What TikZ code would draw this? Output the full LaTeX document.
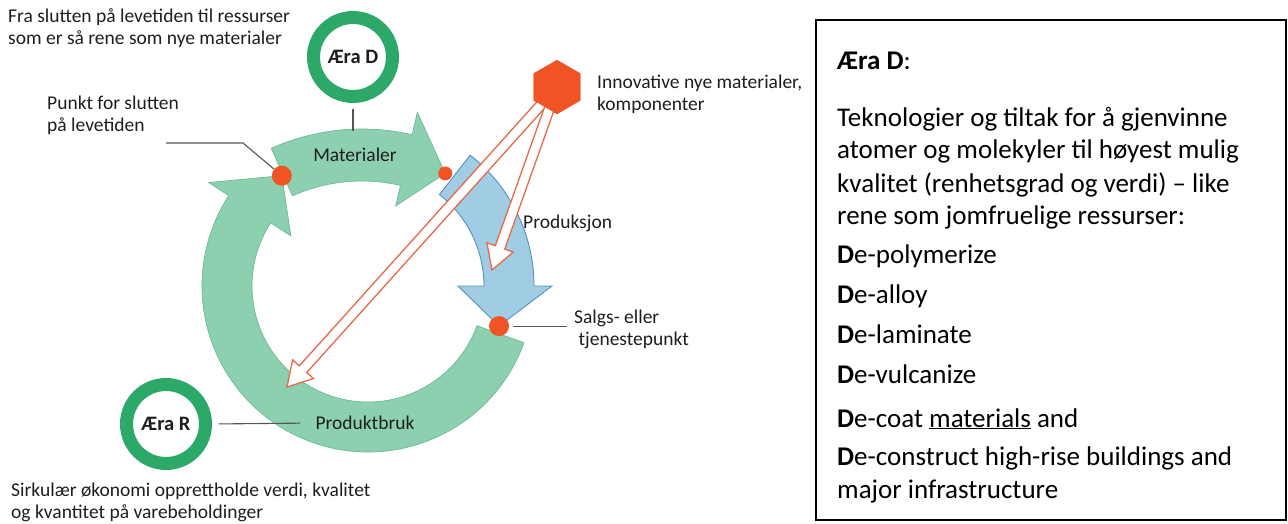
\documentclass[tikz,border=0pt]{standalone}
\usepackage{fontspec}
\setmainfont{Carlito}
\usetikzlibrary{calc,shapes.geometric}
\definecolor{ringgreen}{RGB}{141,208,176}
\definecolor{ringedge}{RGB}{108,186,150}
\definecolor{bluefill}{RGB}{160,205,228}
\definecolor{blueedge}{RGB}{85,145,190}
\definecolor{dotorange}{RGB}{240,84,36}
\definecolor{arrowedge}{RGB}{230,105,75}
\definecolor{eragreen}{RGB}{44,168,104}
\definecolor{leadgray}{RGB}{85,85,85}
\definecolor{txt}{RGB}{30,30,30}
\newcommand{\wArrow}[2]{%
  \coordinate (hb) at ($(#2)!24pt!(#1)$);
  \filldraw[bigarrow] ($(#1)!5pt!90:(#2)$) -- ($(hb)!5pt!90:(#2)$) -- ($(hb)!14pt!90:(#2)$) -- (#2)
    -- ($(hb)!14pt!-90:(#2)$) -- ($(hb)!5pt!-90:(#2)$) -- ($(#1)!5pt!-90:(#2)$) -- cycle;}
\begin{document}
\begin{tikzpicture}[x=1pt,y=1pt,
  lbl/.style={font=\fontsize{19.5}{22}\selectfont, text=txt, inner sep=0pt, align=left},
  era/.style={circle, draw=eragreen, line width=13pt, fill=white, minimum size=79pt, inner sep=0pt, font=\fontsize{20.5}{24}\selectfont\bfseries, text=txt},
  dot/.style={circle, fill=dotorange, inner sep=0pt, minimum size=#1},
  lead/.style={draw=leadgray, line width=1.1pt},
  greenarrow/.style={fill=ringgreen, draw=ringedge, line width=0.7pt},
  bluearrow/.style={fill=bluefill, draw=blueedge, line width=0.9pt},
  bigarrow/.style={fill=white, draw=arrowedge, line width=1.3pt, line join=miter},
  boxtxt/.style={anchor=base west, inner sep=0pt, font=\fontsize{27}{32}\selectfont, text=black}
]
\useasboundingbox (0,0) rectangle (1288,-524);
\coordinate (C) at (368,-286);
\coordinate (M) at (362,-352);

% big green ring arrow
\filldraw[greenarrow] ($(C)+(-20:166)$) arc[start angle=-20, end angle=-213, radius=166]
  -- ($(C)+(147:190)$) -- ($(C)+(128:140)$) -- ($(C)+(147:92)$) -- ($(C)+(147:116)$)
  arc[start angle=147, end angle=340, radius=116] -- cycle;
% Materialer arrow
\filldraw[greenarrow] ($(M)+(114:223)$) arc[start angle=114, end angle=77, radius=223]
  -- ($(M)+(77:246)$) -- ($(M)+(65:197)$) -- ($(M)+(77:150)$) -- ($(M)+(77:171)$)
  arc[start angle=77, end angle=114, radius=171] -- cycle;
% Produksjon arrow
\filldraw[bluearrow] ($(C)+(52:166)$) arc[start angle=52, end angle=0, radius=166]
  -- ($(C)+(0:184)$) -- ($(C)+(-17:137)$) -- ($(C)+(0:90)$) -- ($(C)+(0:116)$)
  arc[start angle=0, end angle=52, radius=116] -- cycle;

% dots
\node[dot=20pt] (eol) at ($(C)+(128:140)$) {};
\node[dot=14pt] (mdot) at ($(M)+(65:197)$) {};
\node[dot=20pt] (sale) at ($(C)+(-17:137)$) {};

% hexagon and white arrows
\node[regular polygon, regular polygon sides=6, regular polygon rotate=30, fill=dotorange, minimum size=54pt, inner sep=0pt] (hex) at (557,-87) {};
\coordinate (tipA) at (287,-387);
\coordinate (tipB) at (492,-270);
\wArrow{hex}{tipA}
\wArrow{hex}{tipB}
\node[regular polygon, regular polygon sides=6, regular polygon rotate=30, fill=dotorange, minimum size=54pt, inner sep=0pt] at (hex) {};

% labels
\node[lbl, anchor=west] (fra) at (8,-28) {Fra slutten på levetiden til ressurser\\som er så rene som nye materialer};
\node[lbl, anchor=west] (punkt) at (47,-115) {Punkt for slutten\\på levetiden};
\node[lbl] (mat) at (355,-155) {Materialer};
\node[lbl, anchor=west] (innov) at (597,-94) {Innovative nye materialer,\\komponenter};
\node[lbl, anchor=west] (prodn) at (523,-223) {Produksjon};
\node[lbl, anchor=west] (salgs) at (574,-329) {Salgs- eller\\\ tjenestepunkt};
\node[lbl] (pb) at (365,-423) {Produktbruk};
\node[lbl, anchor=west] (sirk) at (11,-502) {Sirkulær økonomi opprettholde verdi, kvalitet\\og kvantitet på varebeholdinger};

% leader lines
\coordinate (matTop) at (353,-131);
\coordinate (pkA) at (166,-143);
\coordinate (pkB) at (243,-143);
\draw[lead] (pkA) -- (pkB) -- (eol);
\draw[lead, shorten <=4pt, shorten >=7pt] (sale.east) -- (salgs.west |- sale.east);

% era circles
\node[era] (eraD) at (353,-57) {Æra D};
\node[era] (eraR) at (166,-424) {Æra R};
\draw[lead] (eraD.south) ++(0,-6.5) -- (matTop);
\draw[lead, shorten <=6.5pt, shorten >=15pt] (eraR.east) -- (pb.west);

% right text box
\node[draw=black, line width=1.5pt, minimum width=470pt, minimum height=500pt, inner sep=0pt] (box) at (1051,-270) {};
\node[boxtxt] (t0) at (837,-70) {\textbf{Æra D}:};
\node[boxtxt] (t1) at (837,-127) {Teknologier og tiltak for å gjenvinne};
\node[boxtxt] (t2) at (837,-159) {atomer og molekyler til høyest mulig};
\node[boxtxt] (t3) at (837,-192) {kvalitet (renhetsgrad og verdi) – like};
\node[boxtxt] (t4) at (837,-224) {rene som jomfruelige ressurser:};
\node[boxtxt] (t5) at (837,-263) {\textbf{D}e-polymerize};
\node[boxtxt] (t6) at (837,-303) {\textbf{D}e-alloy};
\node[boxtxt] (t7) at (837,-343) {\textbf{D}e-laminate};
\node[boxtxt] (t8) at (837,-383) {\textbf{D}e-vulcanize};
\node[boxtxt] (t9) at (837,-427) {\textbf{D}e-coat \underline{materials} and};
\node[boxtxt] (t10) at (837,-465) {\textbf{D}e-construct high-rise buildings and};
\node[boxtxt] (t11) at (837,-498) {major infrastructure};
\end{tikzpicture}
\end{document}
